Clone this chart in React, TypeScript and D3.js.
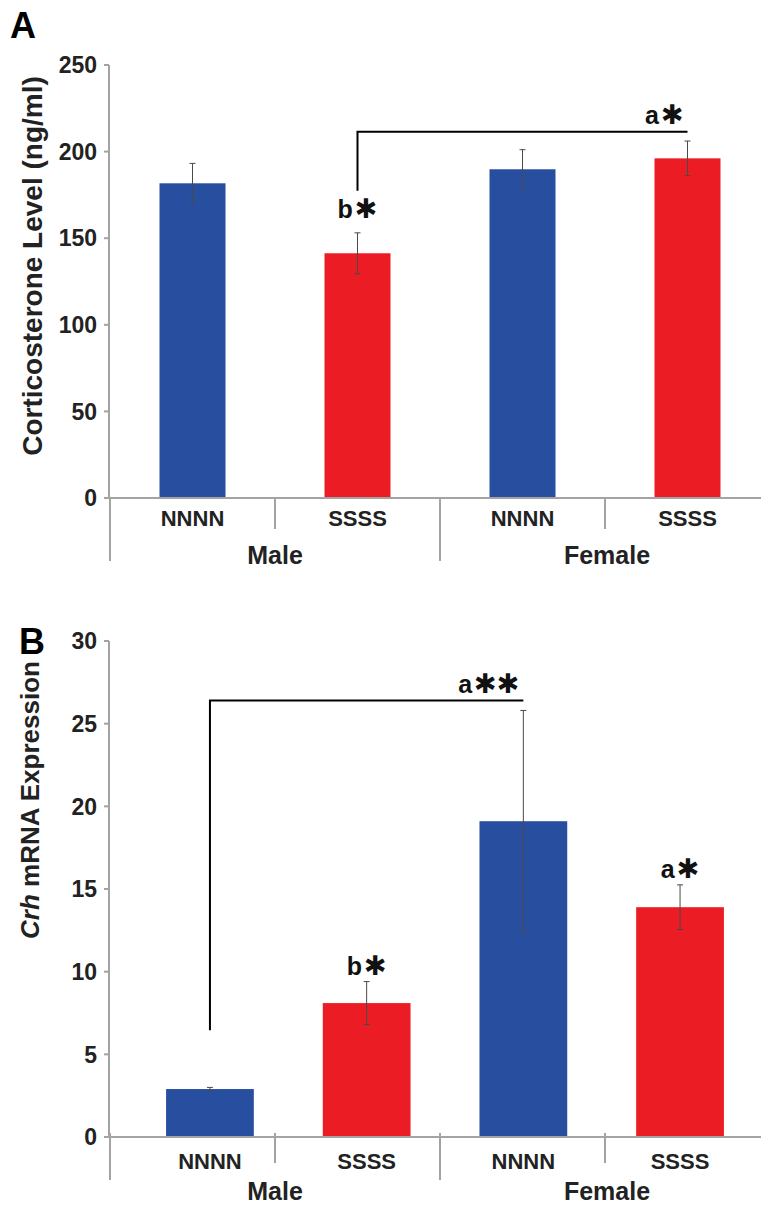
import React from "react";
import * as d3 from "d3";

// ---------- data ----------
const barLabels = ["NNNN", "SSSS", "NNNN", "SSSS"];
const sexGroups = ["Male", "Female"];
const corticosteroneMeans = [181.7, 141.3, 189.8, 196.1];
const corticosteroneSEM = [11.5, 11.8, 11.3, 10.0];
const crhMeans = [2.9, 8.1, 19.1, 13.9];
const crhSEM = [0.1, 1.3, 6.7, 1.35];
const corticosteroneTicks = [0, 50, 100, 150, 200, 250];
const crhTicks = [0, 5, 10, 15, 20, 25, 30];
const genotypeColors: Record<string, string> = { NNNN: "#284f9f", SSSS: "#ec1c24" };

// significance brackets: from bar, to bar, level, leg bottom, label
const corticosteroneBracket = { from: 1, to: 3, level: 211.5, legBottom: 177.4, letter: "a", stars: 1 };
const crhBracket = { from: 0, to: 2, level: 26.4, legBottom: 6.45, letter: "a", stars: 2 };
const corticosteroneMarks = [{ bar: 1, letter: "b", stars: 1 }];
const crhMarks = [
  { bar: 1, letter: "b", stars: 1 },
  { bar: 3, letter: "a", stars: 1 },
];

const FONT = "'Liberation Sans', Arial, Helvetica, sans-serif";
const STAR_FONT = "'DejaVu Sans', sans-serif";
const AXIS_COLOR = "#a3a3a3";
const ERR_COLOR = "#4a4a4a";

type PanelProps = {
  letter: string;
  letterX: number;
  letterY: number;
  means: number[];
  sems: number[];
  ticks: number[];
  yDomain: [number, number];
  yRange: [number, number];
  barRange: [number, number];
  padInner: number;
  padOuter: number;
  title: React.ReactNode;
  titleX: number;
  titleY: number;
  titleSize: number;
  bracket: { from: number; to: number; level: number; legBottom: number; letter: string; stars: number };
  marks: { bar: number; letter: string; stars: number }[];
  labelDy: number;
  groupDy: number;
  shortDiv: [number, number];
  longDiv: [number, number];
  markGap: number;
};

function Stars({ n }: { n: number }) {
  return (
    <tspan fontFamily={STAR_FONT} fontSize={27} dx={2}>
      {"\u2731".repeat(n)}
    </tspan>
  );
}

function Panel(p: PanelProps) {
  const y = d3.scaleLinear().domain(p.yDomain).range(p.yRange);
  const idx = barLabels.map((_, i) => String(i));
  const x = d3.scaleBand<string>().domain(idx).range(p.barRange).paddingInner(p.padInner).paddingOuter(p.padOuter);
  const div = d3.scaleBand<string>().domain(idx).range([110, 770]).padding(0);
  const axisX = 109;
  const y0 = y(0);
  const cx = (i: number) => (x(String(i)) as number) + x.bandwidth() / 2;
  const br = p.bracket;
  return (
    <g>
      <text x={p.letterX} y={p.letterY} fontFamily={FONT} fontWeight="bold" fontSize={36} fill="#000">
        {p.letter}
      </text>
      {/* bars */}
      {p.means.map((m, i) => (
        <rect
          key={"b" + i}
          x={x(String(i))}
          y={y(m)}
          width={x.bandwidth()}
          height={y0 - y(m)}
          fill={genotypeColors[barLabels[i]]}
        />
      ))}
      {/* error bars */}
      {p.means.map((m, i) => {
        const c = cx(i);
        const top = y(m + p.sems[i]);
        const bot = y(m - p.sems[i]);
        return (
          <g key={"e" + i} stroke={ERR_COLOR} strokeWidth={1}>
            <line x1={c} x2={c} y1={top} y2={bot} />
            <line x1={c - 3} x2={c + 3} y1={top} y2={top} />
            <line x1={c - 3} x2={c + 3} y1={bot} y2={bot} />
          </g>
        );
      })}
      {/* y axis */}
      <line x1={axisX} x2={axisX} y1={y(p.ticks[p.ticks.length - 1])} y2={y0} stroke={AXIS_COLOR} strokeWidth={2} />
      {p.ticks.map((t) => (
        <g key={"t" + t}>
          <line x1={axisX - 5} x2={axisX} y1={y(t)} y2={y(t)} stroke={AXIS_COLOR} strokeWidth={2} />
          <text
            x={97}
            y={y(t)}
            dy="0.36em"
            textAnchor="end"
            fontFamily={FONT}
            fontWeight="bold"
            fontSize={23}
            fill="#222"
          >
            {t}
          </text>
        </g>
      ))}
      {/* x axis */}
      <line x1={axisX} x2={761} y1={y0} y2={y0} stroke={AXIS_COLOR} strokeWidth={2} />
      {[0, 1, 2, 3].map((i) => {
        const xx = div(String(i)) as number;
        const long = i % 2 === 0;
        const seg = long ? p.longDiv : p.shortDiv;
        return (
          <line key={"d" + i} x1={xx} x2={xx} y1={y0 + seg[0]} y2={y0 + seg[1]} stroke={AXIS_COLOR} strokeWidth={2} />
        );
      })}
      {barLabels.map((l, i) => (
        <text
          key={"l" + i}
          x={cx(i)}
          y={y0 + p.labelDy}
          textAnchor="middle"
          fontFamily={FONT}
          fontWeight="bold"
          fontSize={22}
          fill="#222"
        >
          {l}
        </text>
      ))}
      {sexGroups.map((g, gi) => {
        const a = div(String(gi * 2)) as number;
        const b = (div(String(gi * 2 + 1)) as number) + div.bandwidth();
        return (
          <text
            key={"g" + gi}
            x={(a + b) / 2 + (gi === 1 ? 2 : 0)}
            y={y0 + p.groupDy}
            textAnchor="middle"
            fontFamily={FONT}
            fontWeight="bold"
            fontSize={25}
            fill="#222"
          >
            {g}
          </text>
        );
      })}
      {/* bracket */}
      <path
        d={`M${cx(br.from)},${y(br.legBottom)}V${y(br.level)}H${cx(br.to)}`}
        fill="none"
        stroke="#000"
        strokeWidth={2}
      />
      <text
        x={cx(br.to) - 4}
        y={y(br.level) - 8}
        textAnchor="end"
        fontFamily={FONT}
        fontWeight="bold"
        fontSize={25}
        fill="#111"
      >
        {br.letter}
        <Stars n={br.stars} />
      </text>
      {p.marks.map((mk, k) => (
        <text
          key={"m" + k}
          x={cx(mk.bar)}
          y={y(p.means[mk.bar] + p.sems[mk.bar]) - p.markGap}
          textAnchor="middle"
          fontFamily={FONT}
          fontWeight="bold"
          fontSize={25}
          fill="#111"
        >
          {mk.letter}
          <Stars n={mk.stars} />
        </text>
      ))}
      {/* y title */}
      <text
        transform={`translate(${p.titleX},${p.titleY}) rotate(-90)`}
        textAnchor="middle"
        fontFamily={FONT}
        fontWeight="bold"
        fontSize={p.titleSize}
        fill="#222"
      >
        {p.title}
      </text>
    </g>
  );
}

export default function App() {
  return (
    <svg
      width={761}
      height={1206}
      viewBox="0 0 761 1206"
      style={{ position: "absolute", left: 0, top: 0, display: "block", background: "#fff" }}
    >
      <Panel
        letter="A"
        letterX={10}
        letterY={38}
        means={corticosteroneMeans}
        sems={corticosteroneSEM}
        ticks={corticosteroneTicks}
        yDomain={[0, 250]}
        yRange={[498, 65]}
        barRange={[110, 770]}
        padInner={0.6}
        padOuter={0.3}
        title={"Corticosterone Level (ng/ml)"}
        titleX={42}
        titleY={266}
        titleSize={28}
        bracket={corticosteroneBracket}
        marks={corticosteroneMarks}
        labelDy={28}
        groupDy={66}
        shortDiv={[0, 31]}
        longDiv={[0, 63]}
        markGap={15}
      />
      <Panel
        letter="B"
        letterX={19}
        letterY={654}
        means={crhMeans}
        sems={crhSEM}
        ticks={crhTicks}
        yDomain={[0, 30]}
        yRange={[1137, 641]}
        barRange={[131.6, 758.4]}
        padInner={0.44}
        padOuter={0.22}
        title={
          <>
            <tspan fontStyle="italic">Crh</tspan> mRNA Expression
          </>
        }
        titleX={39}
        titleY={800}
        titleSize={26}
        bracket={crhBracket}
        marks={crhMarks}
        labelDy={32}
        groupDy={63}
        shortDiv={[-4, 26]}
        longDiv={[-4, 43]}
        markGap={7}
      />
    </svg>
  );
}
